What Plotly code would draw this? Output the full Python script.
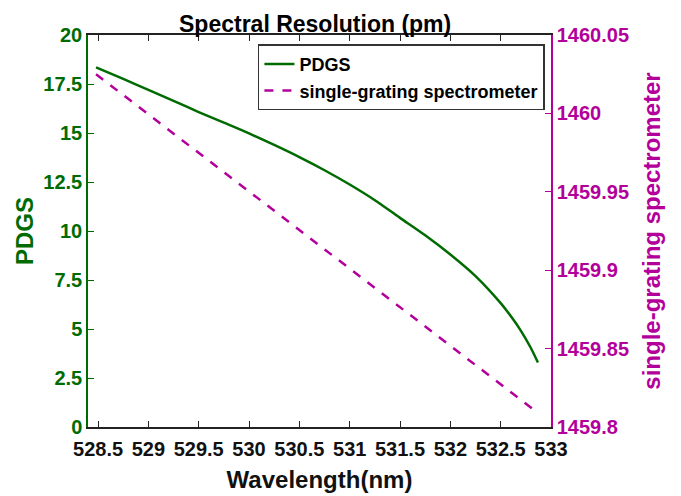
import plotly.graph_objects as go

# PDGS spectral resolution (pm) vs wavelength (nm)
pdgs_wl = [528.48, 528.75, 529.0, 529.25, 529.5, 529.75, 530.0, 530.25, 530.5, 530.75,
           531.0, 531.25, 531.5, 531.75, 532.0, 532.25, 532.5, 532.6, 532.7, 532.8, 532.87]
pdgs_res = [18.35, 17.76, 17.20, 16.64, 16.07, 15.53, 14.98, 14.39, 13.77, 13.10,
            12.37, 11.57, 10.67, 9.78, 8.80, 7.70, 6.32, 5.66, 4.92, 4.03, 3.29]

# single-grating spectrometer (pm)
sg_wl = [528.48, 532.87]
sg_res = [1460.025, 1459.809]

x_ticks = [528.5, 529, 529.5, 530, 530.5, 531, 531.5, 532, 532.5, 533]
x_labels = ["528.5", "529", "529.5", "530", "530.5", "531", "531.5", "532", "532.5", "533"]
y_ticks = [0, 2.5, 5, 7.5, 10, 12.5, 15, 17.5, 20]
y_labels = ["0", "2.5", "5", "7.5", "10", "12.5", "15", "17.5", "20"]
y2_ticks = [1459.8, 1459.85, 1459.9, 1459.95, 1460.0, 1460.05]
y2_labels = ["1459.8", "1459.85", "1459.9", "1459.95", "1460", "1460.05"]

GREEN = "#006b00"
MAG = "#b3009b"
FONT = "Liberation Sans, Arial, sans-serif"

fig = go.Figure()
fig.add_trace(go.Scatter(x=pdgs_wl, y=pdgs_res, mode="lines", name="PDGS",
                         line=dict(color=GREEN, width=2.5, shape="spline", smoothing=0.8)))
fig.add_trace(go.Scatter(x=sg_wl, y=sg_res, mode="lines", name="single-grating spectrometer",
                         yaxis="y2", line=dict(color=MAG, width=2.5, dash="dash")))

fig.update_layout(
    width=681, height=496,
    margin=dict(l=80, r=138, t=27, b=77),
    paper_bgcolor="white", plot_bgcolor="white",
    font=dict(family=FONT, size=20, color="black", weight="bold"),
    title=dict(text="Spectral Resolution (pm)", x=0.451, xanchor="center",
               y=0.968, yanchor="middle", yref="container",
               font=dict(family=FONT, size=23, color="black", weight="bold")),
    showlegend=True,
    legend=dict(x=0.367, y=0.976, xanchor="left", yanchor="top",
                bgcolor="white", bordercolor="#333333", borderwidth=1.5,
                font=dict(family=FONT, size=18, color="black", weight="bold"),
                tracegroupgap=0, itemwidth=30),
    xaxis=dict(range=[528.4, 533], tickvals=x_ticks, ticktext=x_labels,
               showgrid=False, zeroline=False,
               showline=True, linecolor="#222222", linewidth=1.5, mirror="ticks",
               ticks="inside", ticklen=6, tickcolor="#222222", tickwidth=1.2,
               tickfont=dict(size=20, color="#111111", weight="bold"),
               ticklabelstandoff=3,
               title=dict(text="Wavelength(nm)", standoff=12,
                          font=dict(size=24, color="#111111", weight="bold"))),
    yaxis=dict(range=[0, 20], tickvals=y_ticks, ticktext=y_labels,
               showgrid=False, zeroline=False,
               showline=True, linecolor=GREEN, linewidth=1.5,
               ticks="inside", ticklen=6, tickcolor=GREEN, tickwidth=1.2,
               tickfont=dict(size=20, color=GREEN, weight="bold"),
               title=dict(text="PDGS", standoff=3,
                          font=dict(size=24, color=GREEN, weight="bold"))),
    yaxis2=dict(range=[1459.8, 1460.05], tickvals=y2_ticks, ticktext=y2_labels,
                overlaying="y", side="right", anchor="x",
                showgrid=False, zeroline=False,
                showline=True, linecolor=MAG, linewidth=1.5,
                ticks="inside", ticklen=6, tickcolor=MAG, tickwidth=1.2,
                tickfont=dict(size=20, color=MAG, weight="bold"),
                title=dict(text="single-grating spectrometer", standoff=15,
                           font=dict(size=24, color=MAG, weight="bold"))),
)

fig.write_html("out.html")
